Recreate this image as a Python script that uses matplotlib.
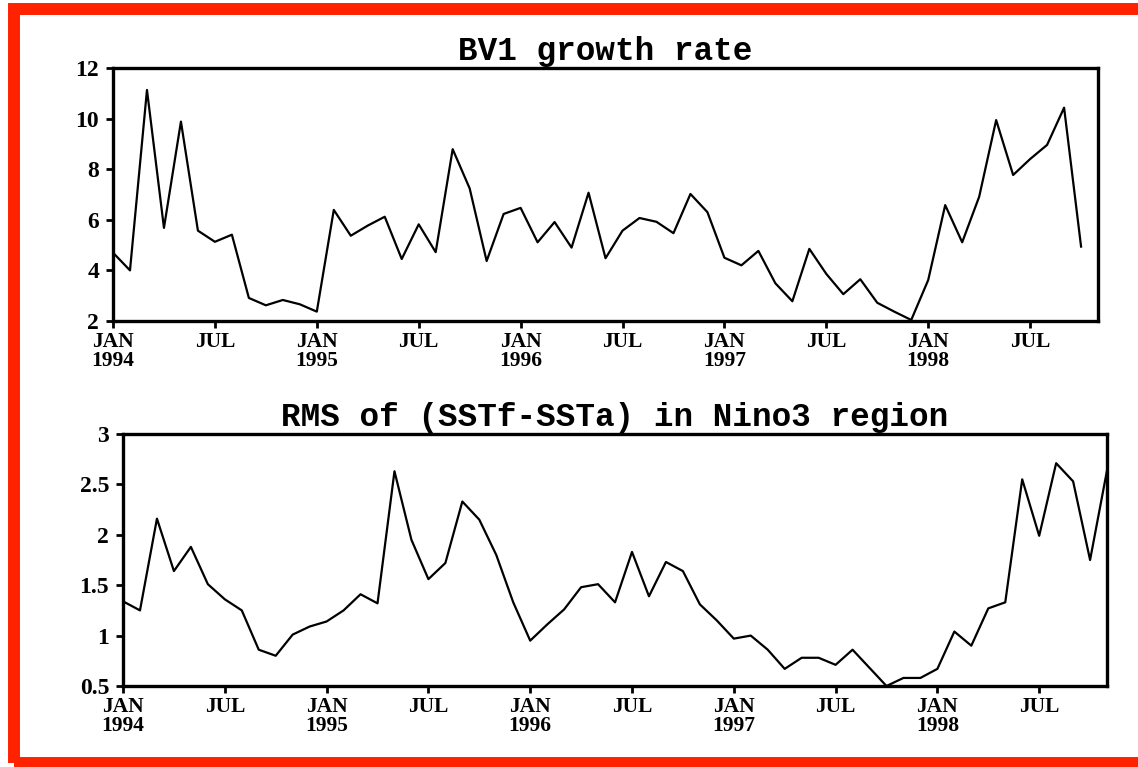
import numpy as np
import matplotlib
matplotlib.use("Agg")
from matplotlib import pyplot as plt
from matplotlib.patches import Rectangle

# monthly values, JAN 1994 onwards
bv1_growth = [4.70, 4.00, 11.13, 5.68, 9.88, 5.57, 5.13, 5.41, 2.91, 2.62, 2.83, 2.66,
              2.37, 6.39, 5.37, 5.77, 6.12, 4.45, 5.82, 4.72, 8.79, 7.24, 4.37, 6.23,
              6.47, 5.11, 5.91, 4.90, 7.07, 4.48, 5.57, 6.07, 5.92, 5.47, 7.02, 6.30,
              4.50, 4.20, 4.77, 3.49, 2.78, 4.85, 3.86, 3.06, 3.65, 2.72, 2.37, 2.04,
              3.62, 6.58, 5.11, 6.91, 9.94, 7.77, 8.40, 8.96, 10.43, 4.94]

rms_nino3 = [1.34, 1.25, 2.16, 1.64, 1.88, 1.51, 1.36, 1.25, 0.86, 0.80, 1.01, 1.09,
             1.14, 1.25, 1.41, 1.32, 2.63, 1.95, 1.56, 1.72, 2.33, 2.15, 1.80, 1.33,
             0.95, 1.11, 1.26, 1.48, 1.51, 1.33, 1.83, 1.39, 1.73, 1.64, 1.31, 1.15,
             0.97, 1.00, 0.86, 0.67, 0.78, 0.78, 0.71, 0.86, 0.68, 0.50, 0.58, 0.58,
             0.67, 1.04, 0.90, 1.27, 1.33, 2.55, 1.99, 2.71, 2.53, 1.75, 2.64]

tick_months = [0, 6, 12, 18, 24, 30, 36, 42, 48, 54]
tick_labels = ["JAN\n1994", "JUL", "JAN\n1995", "JUL", "JAN\n1996", "JUL",
               "JAN\n1997", "JUL", "JAN\n1998", "JUL"]

titles = ["BV1 growth rate", "RMS of (SSTf-SSTa) in Nino3 region"]

XTICK_FONT = dict(family="Liberation Serif", weight="bold", size=15.5)
YTICK_FONT = dict(family="Liberation Serif", weight="bold", size=17)
TITLE_FONT = dict(family="Liberation Mono", weight="bold", size=23.5)


def style_axes(ax, title, yticks, ylabels, ylim):
    ax.set_xlim(0, 58)
    ax.set_ylim(*ylim)
    ax.set_xticks(tick_months)
    ax.set_xticklabels(tick_labels, fontdict=XTICK_FONT, linespacing=0.95)
    ax.set_yticks(yticks)
    ax.set_yticklabels(ylabels, fontdict=YTICK_FONT)
    ax.tick_params(direction="out", length=5, width=2)
    ax.tick_params(axis="x", pad=3)
    ax.tick_params(axis="y", pad=5)
    for sp in ax.spines.values():
        sp.set_linewidth(2.4)
    ax.set_title(title, fontdict=TITLE_FONT, pad=6)


fig = plt.figure(figsize=(11.38, 7.67), dpi=100)

ax1 = fig.add_axes([0.0993, 0.5815, 0.8656, 0.3299])
ax1.plot(np.arange(len(bv1_growth)), bv1_growth, color="black", lw=1.6)
style_axes(ax1, titles[0], [2, 4, 6, 8, 10, 12],
           ["2", "4", "6", "8", "10", "12"], (2, 12))

ax2 = fig.add_axes([0.1081, 0.1056, 0.8647, 0.3286])
ax2.plot(np.arange(len(rms_nino3)), rms_nino3, color="black", lw=1.6)
style_axes(ax2, titles[1], [0.5, 1, 1.5, 2, 2.5, 3],
           ["0.5", "1", "1.5", "2", "2.5", "3"], (0.5, 3))

# red frame round the picture
fig.patches.append(Rectangle((14 / 1138, 1 - 763 / 767), 1.2, (763 - 9) / 767,
                             transform=fig.transFigure, fill=False,
                             edgecolor="#ff2200", lw=8.6, clip_on=False))

fig.savefig("out.png", dpi=100)
